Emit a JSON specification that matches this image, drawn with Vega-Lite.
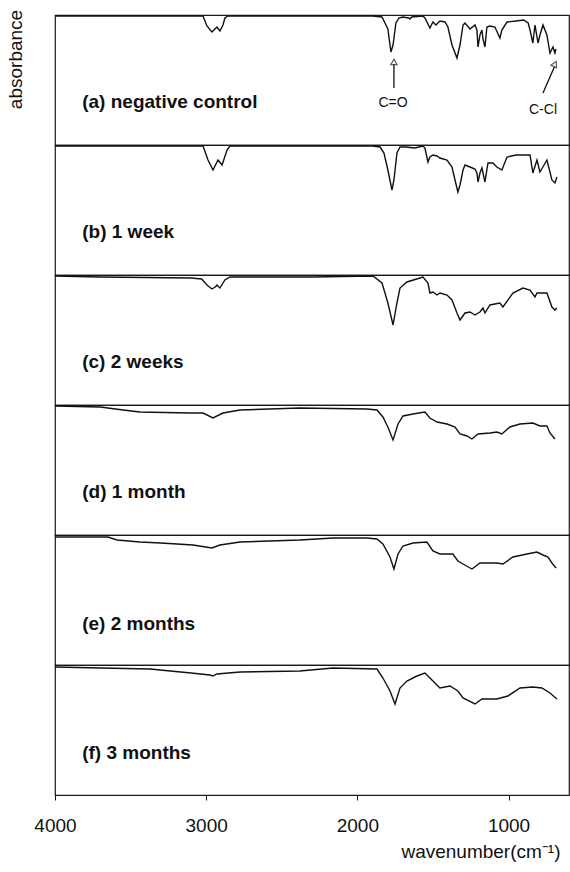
{
  "$schema": "https://vega.github.io/schema/vega-lite/v6.json",
  "padding": {"left": 5, "top": 8, "right": 0, "bottom": 0},
  "spacing": 0,
  "bounds": "flush",
  "config": {
    "font": "Liberation Sans",
    "view": {"stroke": "#1a1a1a", "strokeWidth": 1.2},
    "axis": {"grid": false}
  },
  "datasets": {
    "spectra": [
      {"s":"a","wn":4000,"d":1},{"s":"a","wn":3500,"d":1},{"s":"a","wn":3100,"d":1},{"s":"a","wn":3021,"d":1},{"s":"a","wn":2995,"d":11},{"s":"a","wn":2962,"d":17},{"s":"a","wn":2942,"d":14},{"s":"a","wn":2929,"d":12},{"s":"a","wn":2909,"d":16},{"s":"a","wn":2889,"d":10},{"s":"a","wn":2876,"d":3},{"s":"a","wn":2856,"d":1},{"s":"a","wn":2400,"d":1},{"s":"a","wn":1900,"d":1},{"s":"a","wn":1837,"d":2},{"s":"a","wn":1798,"d":14},{"s":"a","wn":1778,"d":37},{"s":"a","wn":1764,"d":30},{"s":"a","wn":1745,"d":8},{"s":"a","wn":1725,"d":3},{"s":"a","wn":1700,"d":2},{"s":"a","wn":1660,"d":3},{"s":"a","wn":1652,"d":4},{"s":"a","wn":1640,"d":2},{"s":"a","wn":1566,"d":1},{"s":"a","wn":1553,"d":3},{"s":"a","wn":1520,"d":13},{"s":"a","wn":1500,"d":7},{"s":"a","wn":1480,"d":10},{"s":"a","wn":1454,"d":6},{"s":"a","wn":1420,"d":7},{"s":"a","wn":1401,"d":12},{"s":"a","wn":1374,"d":30},{"s":"a","wn":1341,"d":43},{"s":"a","wn":1321,"d":30},{"s":"a","wn":1301,"d":10},{"s":"a","wn":1288,"d":8},{"s":"a","wn":1255,"d":14},{"s":"a","wn":1222,"d":10},{"s":"a","wn":1209,"d":15},{"s":"a","wn":1202,"d":32},{"s":"a","wn":1189,"d":20},{"s":"a","wn":1176,"d":15},{"s":"a","wn":1169,"d":24},{"s":"a","wn":1156,"d":32},{"s":"a","wn":1143,"d":12},{"s":"a","wn":1123,"d":11},{"s":"a","wn":1090,"d":12},{"s":"a","wn":1057,"d":23},{"s":"a","wn":1044,"d":15},{"s":"a","wn":1010,"d":7},{"s":"a","wn":950,"d":6},{"s":"a","wn":900,"d":5},{"s":"a","wn":870,"d":8},{"s":"a","wn":858,"d":15},{"s":"a","wn":839,"d":28},{"s":"a","wn":825,"d":10},{"s":"a","wn":805,"d":28},{"s":"a","wn":792,"d":20},{"s":"a","wn":772,"d":10},{"s":"a","wn":746,"d":20},{"s":"a","wn":726,"d":38},{"s":"a","wn":706,"d":32},{"s":"a","wn":693,"d":38},{"s":"a","wn":686,"d":34},

      {"s":"b","wn":4000,"d":1},{"s":"b","wn":3500,"d":1},{"s":"b","wn":3021,"d":1},{"s":"b","wn":2988,"d":15},{"s":"b","wn":2955,"d":25},{"s":"b","wn":2922,"d":15},{"s":"b","wn":2895,"d":20},{"s":"b","wn":2862,"d":5},{"s":"b","wn":2843,"d":1},{"s":"b","wn":1900,"d":1},{"s":"b","wn":1850,"d":2},{"s":"b","wn":1824,"d":8},{"s":"b","wn":1798,"d":25},{"s":"b","wn":1778,"d":40},{"s":"b","wn":1771,"d":45},{"s":"b","wn":1758,"d":35},{"s":"b","wn":1738,"d":8},{"s":"b","wn":1725,"d":4},{"s":"b","wn":1718,"d":2},{"s":"b","wn":1680,"d":2},{"s":"b","wn":1620,"d":3},{"s":"b","wn":1566,"d":1},{"s":"b","wn":1553,"d":3},{"s":"b","wn":1533,"d":17},{"s":"b","wn":1520,"d":12},{"s":"b","wn":1500,"d":10},{"s":"b","wn":1473,"d":11},{"s":"b","wn":1454,"d":13},{"s":"b","wn":1407,"d":15},{"s":"b","wn":1374,"d":22},{"s":"b","wn":1354,"d":35},{"s":"b","wn":1335,"d":47},{"s":"b","wn":1321,"d":40},{"s":"b","wn":1301,"d":25},{"s":"b","wn":1288,"d":20},{"s":"b","wn":1255,"d":22},{"s":"b","wn":1222,"d":24},{"s":"b","wn":1209,"d":28},{"s":"b","wn":1202,"d":37},{"s":"b","wn":1189,"d":28},{"s":"b","wn":1176,"d":23},{"s":"b","wn":1156,"d":37},{"s":"b","wn":1136,"d":18},{"s":"b","wn":1103,"d":18},{"s":"b","wn":1077,"d":22},{"s":"b","wn":1044,"d":25},{"s":"b","wn":1010,"d":12},{"s":"b","wn":950,"d":10},{"s":"b","wn":900,"d":10},{"s":"b","wn":858,"d":10},{"s":"b","wn":839,"d":28},{"s":"b","wn":812,"d":15},{"s":"b","wn":792,"d":27},{"s":"b","wn":746,"d":15},{"s":"b","wn":713,"d":35},{"s":"b","wn":693,"d":38},{"s":"b","wn":680,"d":32},

      {"s":"c","wn":4000,"d":1},{"s":"c","wn":3700,"d":2},{"s":"c","wn":3400,"d":2.5},{"s":"c","wn":3100,"d":3},{"s":"c","wn":3030,"d":4},{"s":"c","wn":2995,"d":10},{"s":"c","wn":2962,"d":14},{"s":"c","wn":2940,"d":12},{"s":"c","wn":2929,"d":10},{"s":"c","wn":2909,"d":13},{"s":"c","wn":2876,"d":5},{"s":"c","wn":2843,"d":2},{"s":"c","wn":2700,"d":2},{"s":"c","wn":2300,"d":2},{"s":"c","wn":1897,"d":1},{"s":"c","wn":1837,"d":8},{"s":"c","wn":1798,"d":28},{"s":"c","wn":1764,"d":50},{"s":"c","wn":1738,"d":28},{"s":"c","wn":1718,"d":13},{"s":"c","wn":1672,"d":7},{"s":"c","wn":1586,"d":3},{"s":"c","wn":1566,"d":2},{"s":"c","wn":1533,"d":8},{"s":"c","wn":1520,"d":18},{"s":"c","wn":1500,"d":17},{"s":"c","wn":1473,"d":20},{"s":"c","wn":1454,"d":18},{"s":"c","wn":1407,"d":20},{"s":"c","wn":1374,"d":25},{"s":"c","wn":1341,"d":38},{"s":"c","wn":1321,"d":45},{"s":"c","wn":1288,"d":38},{"s":"c","wn":1255,"d":37},{"s":"c","wn":1222,"d":40},{"s":"c","wn":1189,"d":37},{"s":"c","wn":1169,"d":33},{"s":"c","wn":1156,"d":38},{"s":"c","wn":1123,"d":30},{"s":"c","wn":1057,"d":28},{"s":"c","wn":1037,"d":32},{"s":"c","wn":971,"d":18},{"s":"c","wn":905,"d":13},{"s":"c","wn":858,"d":15},{"s":"c","wn":825,"d":22},{"s":"c","wn":812,"d":18},{"s":"c","wn":792,"d":18},{"s":"c","wn":746,"d":18},{"s":"c","wn":713,"d":32},{"s":"c","wn":693,"d":35},{"s":"c","wn":680,"d":33},

      {"s":"d","wn":4000,"d":1},{"s":"d","wn":3700,"d":2},{"s":"d","wn":3550,"d":5},{"s":"d","wn":3438,"d":7},{"s":"d","wn":3107,"d":8},{"s":"d","wn":3021,"d":8},{"s":"d","wn":2955,"d":13},{"s":"d","wn":2889,"d":8},{"s":"d","wn":2776,"d":5},{"s":"d","wn":2380,"d":3},{"s":"d","wn":1936,"d":4},{"s":"d","wn":1870,"d":5},{"s":"d","wn":1831,"d":12},{"s":"d","wn":1798,"d":22},{"s":"d","wn":1764,"d":35},{"s":"d","wn":1731,"d":19},{"s":"d","wn":1698,"d":11},{"s":"d","wn":1632,"d":9},{"s":"d","wn":1553,"d":7},{"s":"d","wn":1520,"d":13},{"s":"d","wn":1473,"d":17},{"s":"d","wn":1407,"d":19},{"s":"d","wn":1354,"d":22},{"s":"d","wn":1321,"d":29},{"s":"d","wn":1275,"d":31},{"s":"d","wn":1242,"d":34},{"s":"d","wn":1202,"d":29},{"s":"d","wn":1123,"d":28},{"s":"d","wn":1077,"d":27},{"s":"d","wn":1044,"d":29},{"s":"d","wn":991,"d":22},{"s":"d","wn":924,"d":19},{"s":"d","wn":839,"d":18},{"s":"d","wn":792,"d":21},{"s":"d","wn":746,"d":21},{"s":"d","wn":726,"d":28},{"s":"d","wn":693,"d":34},

      {"s":"e","wn":4000,"d":2},{"s":"e","wn":3650,"d":2},{"s":"e","wn":3590,"d":5},{"s":"e","wn":3438,"d":7},{"s":"e","wn":3300,"d":8},{"s":"e","wn":3087,"d":10},{"s":"e","wn":2962,"d":13},{"s":"e","wn":2909,"d":10},{"s":"e","wn":2776,"d":7},{"s":"e","wn":2380,"d":5},{"s":"e","wn":2161,"d":3},{"s":"e","wn":1936,"d":3},{"s":"e","wn":1870,"d":4},{"s":"e","wn":1831,"d":9},{"s":"e","wn":1784,"d":22},{"s":"e","wn":1758,"d":34},{"s":"e","wn":1731,"d":19},{"s":"e","wn":1698,"d":11},{"s":"e","wn":1632,"d":8},{"s":"e","wn":1540,"d":7},{"s":"e","wn":1500,"d":16},{"s":"e","wn":1454,"d":19},{"s":"e","wn":1368,"d":19},{"s":"e","wn":1335,"d":26},{"s":"e","wn":1301,"d":29},{"s":"e","wn":1242,"d":34},{"s":"e","wn":1189,"d":28},{"s":"e","wn":1077,"d":28},{"s":"e","wn":1037,"d":29},{"s":"e","wn":971,"d":22},{"s":"e","wn":878,"d":19},{"s":"e","wn":812,"d":17},{"s":"e","wn":772,"d":20},{"s":"e","wn":739,"d":22},{"s":"e","wn":713,"d":28},{"s":"e","wn":686,"d":33},

      {"s":"f","wn":4000,"d":2},{"s":"f","wn":3700,"d":3},{"s":"f","wn":3372,"d":4},{"s":"f","wn":3100,"d":8},{"s":"f","wn":2975,"d":10},{"s":"f","wn":2955,"d":11},{"s":"f","wn":2930,"d":9},{"s":"f","wn":2776,"d":7},{"s":"f","wn":2380,"d":6},{"s":"f","wn":2161,"d":3},{"s":"f","wn":1870,"d":4},{"s":"f","wn":1831,"d":13},{"s":"f","wn":1784,"d":26},{"s":"f","wn":1751,"d":39},{"s":"f","wn":1718,"d":23},{"s":"f","wn":1672,"d":16},{"s":"f","wn":1606,"d":11},{"s":"f","wn":1553,"d":8},{"s":"f","wn":1500,"d":16},{"s":"f","wn":1454,"d":23},{"s":"f","wn":1387,"d":21},{"s":"f","wn":1335,"d":26},{"s":"f","wn":1301,"d":33},{"s":"f","wn":1222,"d":39},{"s":"f","wn":1176,"d":34},{"s":"f","wn":1077,"d":34},{"s":"f","wn":1004,"d":31},{"s":"f","wn":924,"d":23},{"s":"f","wn":839,"d":22},{"s":"f","wn":779,"d":23},{"s":"f","wn":726,"d":28},{"s":"f","wn":680,"d":34}
    ]
  },
  "vconcat": [
    {
      "width": 514, "height": 130,
      "layer": [
        {
          "data": {"name": "spectra"},
          "transform": [{"filter": "datum.s == 'a'"}],
          "mark": {"type": "line", "color": "#111", "strokeWidth": 1.4},
          "encoding": {
            "x": {"field": "wn", "type": "quantitative", "scale": {"domain": [600, 4000], "reverse": true, "nice": false, "zero": false}, "axis": null},
            "y": {"field": "d", "type": "quantitative", "scale": {"domain": [0, 130], "reverse": true, "nice": false, "zero": false},
                  "axis": {"title": "absorbance", "labels": false, "ticks": false, "domain": false, "titleFontSize": 19, "titleFontWeight": "normal", "titleColor": "#111", "titlePadding": 30, "titleY": 44, "titleAlign": "center"}}
          }
        },
        {
          "data": {"values": [{"label": "(a) negative control"}]},
          "mark": {"type": "text", "align": "left", "baseline": "middle", "fontSize": 19, "fontWeight": "bold", "color": "#111"},
          "encoding": {"x": {"datum": 3820}, "y": {"datum": 87}, "text": {"field": "label"}}
        },
        {
          "data": {"values": [{"wn": 1758, "wn2": 1758, "d": 73, "d2": 49}, {"wn": 772, "wn2": 697, "d": 78, "d2": 52}]},
          "mark": {"type": "rule", "color": "#111", "strokeWidth": 1.3},
          "encoding": {"x": {"field": "wn", "type": "quantitative"}, "x2": {"field": "wn2"}, "y": {"field": "d", "type": "quantitative"}, "y2": {"field": "d2"}}
        },
        {
          "data": {"values": [{"wn": 1758, "d": 47}]},
          "mark": {"type": "point", "shape": "triangle-up", "size": 40, "filled": false, "color": "#111", "strokeWidth": 1.2},
          "encoding": {"x": {"field": "wn", "type": "quantitative"}, "y": {"field": "d", "type": "quantitative"}}
        },
        {
          "data": {"values": [{"wn": 693, "d": 49}]},
          "mark": {"type": "point", "shape": "triangle-up", "angle": 26, "size": 40, "filled": false, "color": "#111", "strokeWidth": 1.2},
          "encoding": {"x": {"field": "wn", "type": "quantitative"}, "y": {"field": "d", "type": "quantitative"}}
        },
        {
          "data": {"values": [{"wn": 1764, "d": 88, "note": "C=O"}, {"wn": 772, "d": 95, "note": "C-Cl"}]},
          "mark": {"type": "text", "align": "center", "baseline": "middle", "fontSize": 14, "color": "#111"},
          "encoding": {"x": {"field": "wn", "type": "quantitative"}, "y": {"field": "d", "type": "quantitative"}, "text": {"field": "note"}}
        }
      ]
    },
    {
      "width": 514, "height": 130,
      "layer": [
        {
          "data": {"name": "spectra"},
          "transform": [{"filter": "datum.s == 'b'"}],
          "mark": {"type": "line", "color": "#111", "strokeWidth": 1.4},
          "encoding": {
            "x": {"field": "wn", "type": "quantitative", "scale": {"domain": [600, 4000], "reverse": true, "nice": false, "zero": false}, "axis": null},
            "y": {"field": "d", "type": "quantitative", "scale": {"domain": [0, 130], "reverse": true, "nice": false, "zero": false}, "axis": null}
          }
        },
        {
          "data": {"values": [{"label": "(b) 1 week"}]},
          "mark": {"type": "text", "align": "left", "baseline": "middle", "fontSize": 19, "fontWeight": "bold", "color": "#111"},
          "encoding": {"x": {"datum": 3820}, "y": {"datum": 87}, "text": {"field": "label"}}
        }
      ]
    },
    {
      "width": 514, "height": 130,
      "layer": [
        {
          "data": {"name": "spectra"},
          "transform": [{"filter": "datum.s == 'c'"}],
          "mark": {"type": "line", "color": "#111", "strokeWidth": 1.4},
          "encoding": {
            "x": {"field": "wn", "type": "quantitative", "scale": {"domain": [600, 4000], "reverse": true, "nice": false, "zero": false}, "axis": null},
            "y": {"field": "d", "type": "quantitative", "scale": {"domain": [0, 130], "reverse": true, "nice": false, "zero": false}, "axis": null}
          }
        },
        {
          "data": {"values": [{"label": "(c) 2 weeks"}]},
          "mark": {"type": "text", "align": "left", "baseline": "middle", "fontSize": 19, "fontWeight": "bold", "color": "#111"},
          "encoding": {"x": {"datum": 3820}, "y": {"datum": 87}, "text": {"field": "label"}}
        }
      ]
    },
    {
      "width": 514, "height": 130,
      "layer": [
        {
          "data": {"name": "spectra"},
          "transform": [{"filter": "datum.s == 'd'"}],
          "mark": {"type": "line", "color": "#111", "strokeWidth": 1.4},
          "encoding": {
            "x": {"field": "wn", "type": "quantitative", "scale": {"domain": [600, 4000], "reverse": true, "nice": false, "zero": false}, "axis": null},
            "y": {"field": "d", "type": "quantitative", "scale": {"domain": [0, 130], "reverse": true, "nice": false, "zero": false}, "axis": null}
          }
        },
        {
          "data": {"values": [{"label": "(d) 1 month"}]},
          "mark": {"type": "text", "align": "left", "baseline": "middle", "fontSize": 19, "fontWeight": "bold", "color": "#111"},
          "encoding": {"x": {"datum": 3820}, "y": {"datum": 87}, "text": {"field": "label"}}
        }
      ]
    },
    {
      "width": 514, "height": 130,
      "layer": [
        {
          "data": {"name": "spectra"},
          "transform": [{"filter": "datum.s == 'e'"}],
          "mark": {"type": "line", "color": "#111", "strokeWidth": 1.4},
          "encoding": {
            "x": {"field": "wn", "type": "quantitative", "scale": {"domain": [600, 4000], "reverse": true, "nice": false, "zero": false}, "axis": null},
            "y": {"field": "d", "type": "quantitative", "scale": {"domain": [0, 130], "reverse": true, "nice": false, "zero": false}, "axis": null}
          }
        },
        {
          "data": {"values": [{"label": "(e) 2 months"}]},
          "mark": {"type": "text", "align": "left", "baseline": "middle", "fontSize": 19, "fontWeight": "bold", "color": "#111"},
          "encoding": {"x": {"datum": 3820}, "y": {"datum": 89}, "text": {"field": "label"}}
        }
      ]
    },
    {
      "width": 514, "height": 130,
      "layer": [
        {
          "data": {"name": "spectra"},
          "transform": [{"filter": "datum.s == 'f'"}],
          "mark": {"type": "line", "color": "#111", "strokeWidth": 1.4},
          "encoding": {
            "x": {"field": "wn", "type": "quantitative", "scale": {"domain": [600, 4000], "reverse": true, "nice": false, "zero": false},
                  "axis": {"values": [1000, 2000, 3000, 4000], "format": "d", "tickSize": 5, "tickColor": "#111", "domain": false, "labelFlush": false, "labelFontSize": 19, "labelColor": "#111", "labelPadding": 16, "title": "wavenumber(cm⁻¹)", "titleFontSize": 19, "titleFontWeight": "normal", "titleColor": "#111", "titleX": 505, "titleY": 56, "titleAlign": "right", "titleBaseline": "middle"}},
            "y": {"field": "d", "type": "quantitative", "scale": {"domain": [0, 130], "reverse": true, "nice": false, "zero": false}, "axis": null}
          }
        },
        {
          "data": {"values": [{"label": "(f) 3 months"}]},
          "mark": {"type": "text", "align": "left", "baseline": "middle", "fontSize": 19, "fontWeight": "bold", "color": "#111"},
          "encoding": {"x": {"datum": 3820}, "y": {"datum": 88}, "text": {"field": "label"}}
        }
      ]
    }
  ]
}
